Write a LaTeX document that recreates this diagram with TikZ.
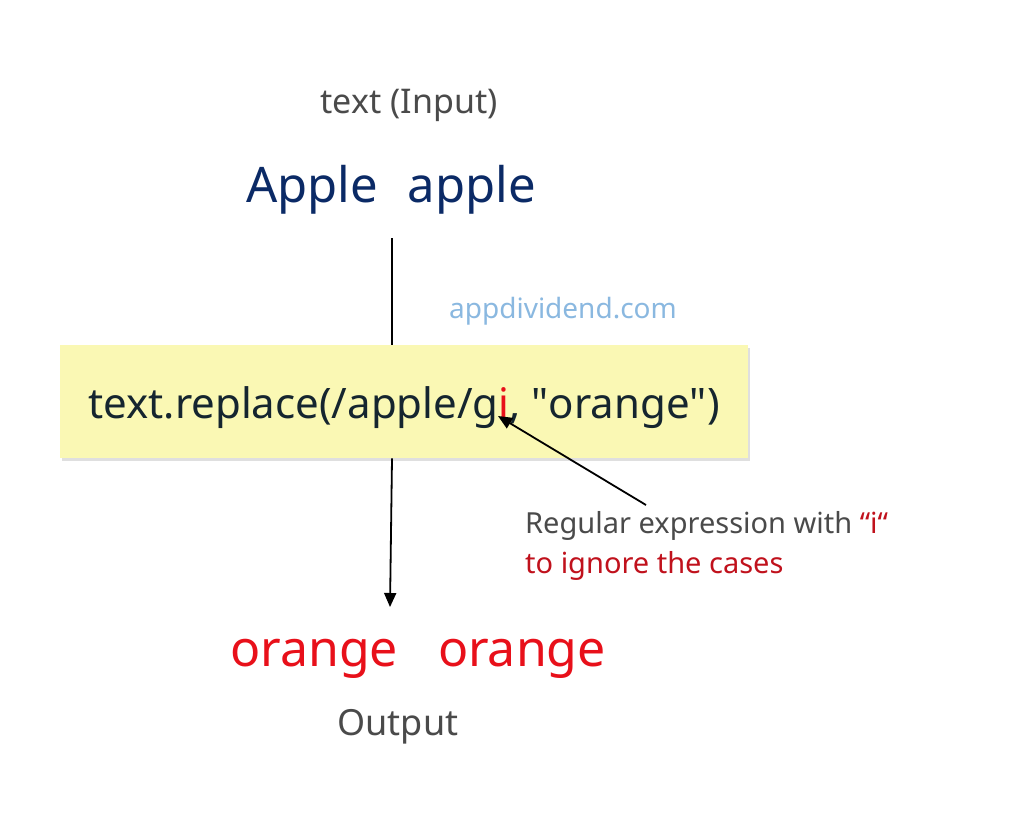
\documentclass[tikz,border=0pt]{standalone}
\usepackage{fontspec}
\setmainfont{Noto Sans}
\usetikzlibrary{arrows.meta,shadows}
\definecolor{navy}{HTML}{0B2A66}
\definecolor{gtxt}{HTML}{4A4A4A}
\definecolor{ored}{HTML}{E8101A}
\definecolor{dred}{HTML}{C0111C}
\definecolor{lblue}{HTML}{8AB8E0}
\definecolor{boxy}{HTML}{FAF8B4}
\definecolor{code}{HTML}{15252F}
\tikzset{lbl/.style={inner sep=0pt,anchor=center},
  conn/.style={line width=1.8pt,-{Triangle[length=14pt,width=12pt]}}}
\begin{document}
\begin{tikzpicture}[x=1pt,y=-1pt]
\useasboundingbox (0,0) rectangle (1024,825);
\node[lbl,text=gtxt,font=\fontsize{34}{38}\selectfont] (in) at (409,105) {text (Input)};
\node[lbl,text=navy,font=\fontsize{49}{54}\selectfont] (apple) at (391,190) {Apple\hspace{0.6em}apple};
\node[lbl,text=lblue,font=\fontsize{28}{32}\selectfont] (site) at (563,311) {appdividend.com};
\node[draw=none,fill=boxy,minimum width=688pt,minimum height=113pt,anchor=north west,
  drop shadow={shadow xshift=2pt,shadow yshift=-3pt,opacity=0.25}] (box) at (60,345) {};
\node[lbl,text=code,font=\fontsize{42}{46}\selectfont] (code) at (404,408) {text.replace(/apple/g\textcolor{ored}{i}, \textquotedbl orange\textquotedbl)};
\coordinate (top) at (392,238);
\coordinate (bot) at (390,607);
\draw[line width=1.8pt] (top) -- (box.north -| top);
\draw[conn] (box.south -| top) -- (bot);
\node[anchor=west,inner sep=0pt,align=left,text=gtxt,font=\fontsize{29}{40}\selectfont] (note) at (525,546)
  {Regular expression with \textcolor{dred}{“i“}\\\textcolor{dred}{to ignore the cases}};
\coordinate (tip) at (498,416);
\coordinate (tail) at (646,505);
\draw[conn] (tail) -- (tip);
\node[lbl,text=ored,font=\fontsize{50}{54}\selectfont] (out) at (418,659) {orange\hspace{0.8em}orange};
\node[lbl,text=gtxt,font=\fontsize{36}{40}\selectfont] (outl) at (398,727) {Output};
\end{tikzpicture}
\end{document}
